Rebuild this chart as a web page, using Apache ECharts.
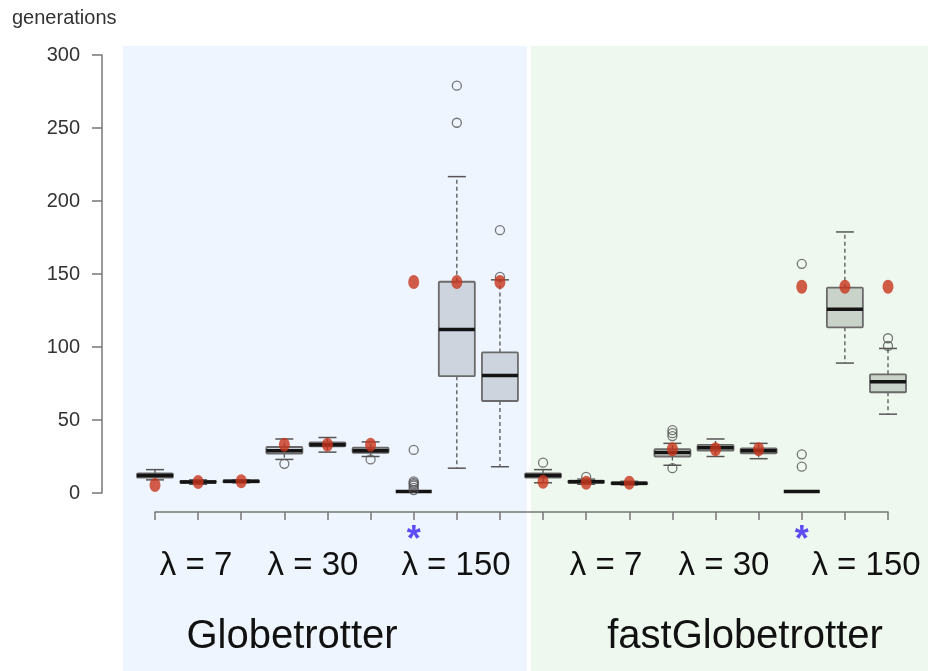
<!DOCTYPE html>
<html>
<head>
<meta charset="utf-8">
<script src="https://cdn.jsdelivr.net/npm/echarts@6/dist/echarts.min.js"></script>
<style>html,body{margin:0;padding:0;background:#fff}#c{width:928px;height:671px}</style>
</head>
<body>
<div id="c"></div>
<script>
// ---- data ----
const categories = [
  'Globetrotter λ=7 a','Globetrotter λ=7 b','Globetrotter λ=7 c',
  'Globetrotter λ=30 a','Globetrotter λ=30 b','Globetrotter λ=30 c',
  'Globetrotter λ=150 a','Globetrotter λ=150 b','Globetrotter λ=150 c',
  'fastGlobetrotter λ=7 a','fastGlobetrotter λ=7 b','fastGlobetrotter λ=7 c',
  'fastGlobetrotter λ=30 a','fastGlobetrotter λ=30 b','fastGlobetrotter λ=30 c',
  'fastGlobetrotter λ=150 a','fastGlobetrotter λ=150 b','fastGlobetrotter λ=150 c'
];
const lowWhisker  = [9, 6, 7, 23, 28, 25, 1, 17, 18, 7, 6, 5.5, 19, 25, 23.5, 1, 89, 54];
const q1          = [10.5, 7, 7.3, 27, 32, 27.5, 1, 80, 63, 10.5, 7, 6, 25, 29, 27.2, 1, 113.5, 69];
const median      = [12, 7.5, 8, 29, 33, 29, 1, 112, 80.5, 12, 7.7, 6.6, 27.8, 31, 29, 1, 125.8, 76.2];
const q3          = [13.5, 8.3, 8.6, 31.5, 34.7, 31, 1, 144.7, 96.3, 13.5, 8.5, 7.3, 30, 32.9, 30.6, 1, 140.6, 81.3];
const highWhisker = [16, 9, 9, 37, 38, 35, 1, 216.7, 146, 16, 9.5, 8, 34, 37, 34, 1, 178.8, 99];
const outlierBox   = [3, 5, 6, 6, 6, 6, 6, 6, 6, 7, 7, 8, 8, 9, 10, 12, 12, 12, 12, 15, 15, 15, 17, 17];
const outlierValue = [20, 23, 2, 3.5, 5, 6, 7, 8, 29.5, 253.6, 279, 148, 180, 20.8, 11, 17, 39, 41, 43, 18, 26.5, 157, 100.7, 106];
const meanValues  = [5.5, 7.5, 8, 33, 33, 33, 144.5, 144.5, 144.5, 7.7, 7, 7, 30, 30, 30, 141.3, 141.3, 141.3];
const starBoxes   = [6, 15];
const yTicks = [0, 50, 100, 150, 200, 250, 300];
const lambdaLabels = ['λ = 7', 'λ = 30', 'λ = 150'];
const methodLabels = ['Globetrotter', 'fastGlobetrotter'];

const boxData = categories.map((c, i) => [i, lowWhisker[i], q1[i], median[i], q3[i], highWhisker[i]]);
const outlierData = outlierBox.map((b, i) => [b, outlierValue[i]]);
const meanData = meanValues.map((v, i) => [i, v]);
const starData = starBoxes.map(b => [b, 0]);

const chart = echarts.init(document.getElementById('c'), null, {renderer: 'canvas'});
const FONT = '"Liberation Sans", Arial, sans-serif';

function renderBox(params, api) {
  const i = api.value(0);
  const pLo = api.coord([i, api.value(1)]);
  const pQ1 = api.coord([i, api.value(2)]);
  const pMed = api.coord([i, api.value(3)]);
  const pQ3 = api.coord([i, api.value(4)]);
  const pHi = api.coord([i, api.value(5)]);
  const x = pMed[0];
  const half = 18, cap = 9;
  const fill = i < 9 ? '#cdd4de' : '#c9d3c9';
  const stroke = '#6a6a6a';
  const children = [];
  if (pHi[1] < pQ3[1]) {
    children.push({type: 'line', shape: {x1: x, y1: pQ3[1], x2: x, y2: pHi[1]}, style: {stroke: '#555', lineWidth: 1.3, lineDash: [4, 3]}});
  }
  if (pLo[1] > pQ1[1]) {
    children.push({type: 'line', shape: {x1: x, y1: pQ1[1], x2: x, y2: pLo[1]}, style: {stroke: '#555', lineWidth: 1.3, lineDash: [4, 3]}});
  }
  if (api.value(5) !== api.value(4)) {
    children.push({type: 'line', shape: {x1: x - cap, y1: pHi[1], x2: x + cap, y2: pHi[1]}, style: {stroke: '#555', lineWidth: 1.5}});
  }
  if (api.value(1) !== api.value(2)) {
    children.push({type: 'line', shape: {x1: x - cap, y1: pLo[1], x2: x + cap, y2: pLo[1]}, style: {stroke: '#555', lineWidth: 1.5}});
  }
  if (pQ1[1] - pQ3[1] > 0.5) {
    children.push({type: 'rect', shape: {x: x - half, y: pQ3[1], width: half * 2, height: pQ1[1] - pQ3[1], r: 1}, style: {fill: fill, stroke: stroke, lineWidth: 1.8}});
  }
  children.push({type: 'line', shape: {x1: x - half, y1: pMed[1], x2: x + half, y2: pMed[1]}, style: {stroke: '#141414', lineWidth: 3.5}});
  return {type: 'group', children: children};
}

const graphics = [
  {type: 'rect', shape: {x: 123, y: 46, width: 404, height: 625}, style: {fill: '#eef5fe'}, z: -10, silent: true},
  {type: 'rect', shape: {x: 531, y: 46, width: 397, height: 625}, style: {fill: '#eff8ee'}, z: -10, silent: true},
  {type: 'text', x: 12, y: 18, style: {text: 'generations', font: '20px ' + FONT, fill: '#333', textVerticalAlign: 'middle'}},
];
const lamX = [[196, 313, 456], [606, 724, 866]];
const methX = [292, 745];
for (let g = 0; g < 2; g++) {
  for (let k = 0; k < 3; k++) {
    graphics.push({type: 'text', x: lamX[g][k], y: 566, style: {text: lambdaLabels[k], font: '33px ' + FONT, fill: '#111', textAlign: 'center', textVerticalAlign: 'middle'}});
  }
  graphics.push({type: 'text', x: methX[g], y: 637, style: {text: methodLabels[g], font: '40px ' + FONT, fill: '#111', textAlign: 'center', textVerticalAlign: 'middle'}});
}

chart.setOption({
  animation: false,
  backgroundColor: '#ffffff',
  grid: {left: 155, right: 40, top: 55, bottom: 178, containLabel: false},
  xAxis: {
    type: 'category', data: categories, boundaryGap: false, offset: 19,
    axisLine: {onZero: false, lineStyle: {color: '#777', width: 1.5}},
    axisTick: {interval: 0, length: 8, lineStyle: {color: '#777', width: 1.5}},
    axisLabel: {show: false}, splitLine: {show: false}
  },
  yAxis: {
    type: 'value', min: 0, max: 300, interval: 50, offset: 53,
    axisLine: {show: true, lineStyle: {color: '#777', width: 1.5}},
    axisTick: {show: true, length: 10, lineStyle: {color: '#777', width: 1.5}},
    axisLabel: {color: '#333', fontSize: 20, fontFamily: FONT, margin: 22,
      formatter: v => yTicks.includes(v) ? String(v) : ''},
    splitLine: {show: false}
  },
  graphic: graphics,
  series: [
    {type: 'custom', renderItem: renderBox, data: boxData, z: 2,
     encode: {x: 0, y: [1, 2, 3, 4, 5]}},
    {type: 'scatter', data: outlierData, symbol: 'circle', symbolSize: 9, z: 3,
     itemStyle: {color: 'rgba(0,0,0,0)', borderColor: '#555', borderWidth: 1.3}},
    {type: 'scatter', data: meanData, symbol: 'circle', symbolSize: [11, 14], z: 4,
     itemStyle: {color: '#c8341c'}},
    {type: 'scatter', data: starData, symbol: 'circle', symbolSize: 2, z: 5, silent: true,
     itemStyle: {color: 'rgba(0,0,0,0)'},
     label: {show: true, formatter: '*', position: 'inside', offset: [0, 48], color: '#3a1ff5', fontSize: 36, fontWeight: 'bold', fontFamily: FONT}}
  ]
});
</script>
</body>
</html>
